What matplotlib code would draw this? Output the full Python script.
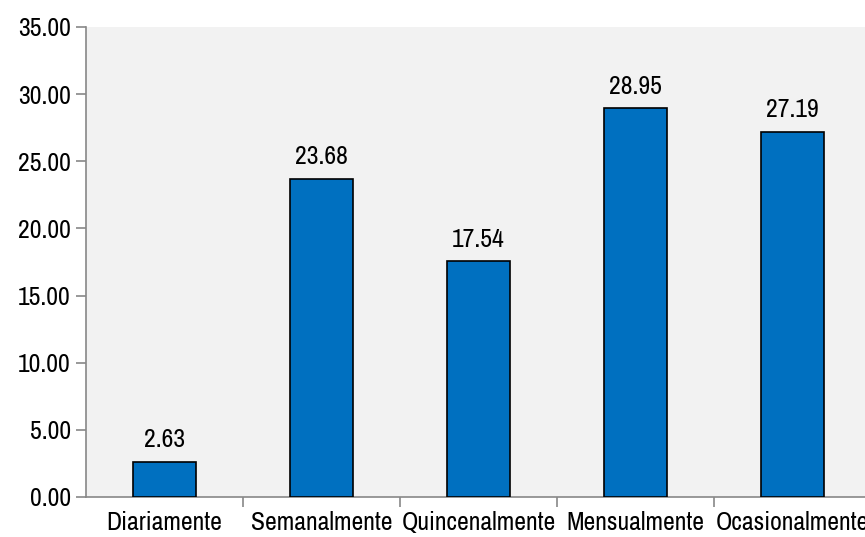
import matplotlib
matplotlib.use("Agg")
import matplotlib.pyplot as plt
import numpy as np

# frequency categories and their percentages
categorias = ["Diariamente", "Semanalmente", "Quincenalmente", "Mensualmente", "Ocasionalmente"]
valores = [2.63, 23.68, 17.54, 28.95, 27.19]
yticks = [0, 5, 10, 15, 20, 25, 30, 35]

plt.rcParams['font.family'] = ['Archivo Narrow', 'Roboto Condensed', 'DejaVu Sans']
fs = 18.5

fig = plt.figure(figsize=(8.65, 5.37), dpi=100)
W, H = 865, 537
# plot area runs off the right edge a little
ax = fig.add_axes([86 / W, 40 / H, 785 / W, 470 / H])
ax.set_facecolor("#f2f2f2")

x = np.arange(len(categorias))
bars = ax.bar(x, valores, width=0.4, color="#0070c0", edgecolor="black", linewidth=1.2, zorder=3)

for b, v in zip(bars, valores):
    ax.text(b.get_x() + b.get_width() / 2, v + 0.8, f"{v:.2f}",
            ha="center", va="bottom", fontsize=fs)

ax.set_xlim(-0.5, len(categorias) - 0.5)
ax.set_ylim(0, 35)
ax.set_yticks(yticks)
ax.set_yticklabels([f"{t:.2f}" for t in yticks], fontsize=fs)

# category labels centered under bars, tick marks at boundaries
ax.set_xticks(x)
ax.set_xticklabels(categorias, fontsize=fs)
ax.tick_params(axis="x", which="major", length=0, pad=10)
ax.set_xticks(np.arange(0.5, len(categorias) - 0.5), minor=True)
ax.tick_params(axis="x", which="minor", length=7, color="#888888", width=1.2)
ax.tick_params(axis="y", length=7, color="#888888", width=1.2, pad=4)

for s in ["top", "right"]:
    ax.spines[s].set_visible(False)
for s in ["left", "bottom"]:
    ax.spines[s].set_color("#888888")
    ax.spines[s].set_linewidth(1.2)

fig.savefig("out.png", dpi=100)
